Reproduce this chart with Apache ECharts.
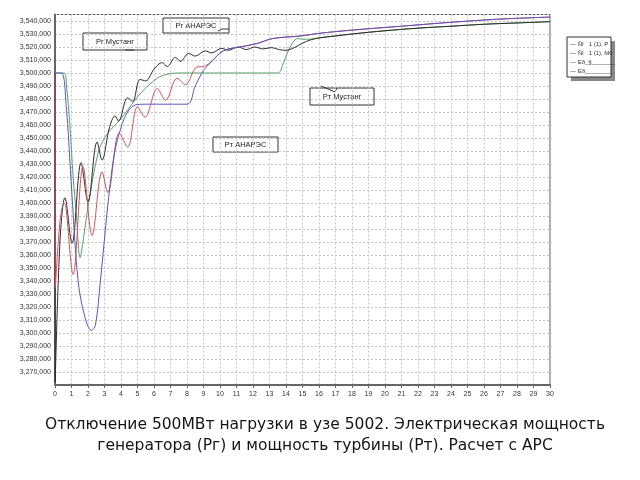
<!DOCTYPE html>
<html><head><meta charset="utf-8">
<script src="https://cdn.jsdelivr.net/npm/echarts@6/dist/echarts.min.js"></script>
<style>html,body{margin:0;padding:0;background:#fff}#c{width:640px;height:480px}</style>
</head><body><div id="c"></div>
<script>
// ---- data ----
const xTicks = [0,1,2,3,4,5,6,7,8,9,10,11,12,13,14,15,16,17,18,19,20,21,22,23,24,25,26,27,28,29,30];

// Pg Mustang (black)
const tBlack = [0,0.01,0.3,0.6,1.03,1.58,2.0,2.55,2.85,3.3,3.64,3.85,4.4,4.7,5.15,5.5,6.0,6.5,6.8,7.3,7.6,8.1,8.5,9.1,9.5,10.1,10.5,11.1,11.6,12.1,12.6,13.1,13.6,14.0,14.5,15.0,15.5,16,17,18,20,22,24,26,28,30];
const vBlack = [3500000,3262000,3370000,3404000,3369000,3431000,3401000,3447000,3433000,3458000,3467000,3463000,3481000,3478000,3495000,3494000,3503000,3508000,3505000,3512000,3509000,3515000,3513000,3517000,3515500,3519000,3517500,3520000,3518000,3520000,3518500,3519500,3518000,3517500,3519500,3523000,3525500,3527000,3528500,3530000,3532500,3534500,3536000,3537500,3538500,3539500];

// Pt Mustang (green)
const tGreen = [0,0.55,0.7,0.9,1.1,1.3,1.52,1.75,2.0,2.6,3.0,3.35,4.0,4.4,5.2,6.2,6.8,7.5,10,13.5,13.8,14.1,14.4,14.7,15.0,15.5,16,17,18,20,22,24,26,28,30];
const vGreen = [3500000,3500000,3490000,3460000,3420000,3390000,3358000,3375000,3397000,3438000,3450000,3456000,3465000,3471500,3484600,3496000,3499000,3500000,3500000,3500000,3506000,3516000,3523000,3526500,3526000,3526000,3527000,3528500,3530000,3532500,3534500,3536000,3537500,3538500,3539500];

// Pt ANARES (blue)
const tBlue = [0,0.4,0.7,0.9,1.05,1.4,1.8,2.2,2.45,2.75,3.05,3.25,3.6,4.0,4.4,4.9,5.5,8.0,8.5,9.0,9.4,10.2,11.2,12.2,13.2,14.9,16,18,21,24,27,30];
const vBlue = [3500000,3500000,3471000,3433000,3402000,3340000,3313000,3302000,3306000,3340000,3379000,3404000,3438000,3458000,3470000,3475500,3476000,3476000,3490000,3502000,3507500,3517000,3520000,3522500,3526500,3528500,3530500,3533000,3536000,3539000,3541500,3543000];

// Pg ANARES (red)
const tRed = [0,0.02,0.3,0.55,0.65,1.1,1.7,2.25,2.85,3.2,3.9,4.4,5.0,5.45,6.2,6.7,7.4,7.9,8.6,9.0,9.4,10.2,11.2,12.2,13.2,14.9,16,18,21,24,27,30];
const vRed = [3500000,3335000,3385000,3400000,3398000,3345000,3428000,3375000,3424000,3408000,3454000,3443000,3474000,3466000,3488000,3479000,3496000,3491000,3504600,3505000,3508000,3517000,3520000,3522500,3526500,3528500,3530500,3533000,3536000,3539000,3541500,3543000];

const legendNames = ['Ñî   1 (1), P','Ñî   1 (1), M0','Eð_§_______','Eð________'];
const titleLines = ['Отключение 500МВт нагрузки в узе 5002. Электрическая мощность','генератора (Рг) и мощность турбины (Рт). Расчет с АРС'];

function pairs(t,v){return t.map((x,i)=>[x,v[i]]);}
function fmt(v){return String(v).replace(/\B(?=(\d{3})+(?!\d))/g, ',');}

const chart = echarts.init(document.getElementById('c'), null, {renderer:'canvas'});

function box(x,y,w,h,txt){
  return {type:'group',children:[
    {type:'rect',shape:{x:x,y:y,width:w,height:h},style:{fill:'#fff',stroke:'#333',lineWidth:1}},
    {type:'text',style:{x:x+w/2,y:y+h/2,text:txt,textAlign:'center',textVerticalAlign:'middle',font:'7.5px "Liberation Sans", Arial',fill:'#222'}}
  ]};
}

const graphics = [
  box(83,33,64,17,'Рг Мустанг'),
  box(163,18,66,15,'Рг АНАРЭС'),
  box(310,88,64,17,'Рт Мустанг'),
  box(213,137,65,15,'Рт АНАРЭС'),
  {type:'polyline',shape:{points:[[218,31],[222,29],[229,29]]},style:{stroke:'#333',lineWidth:1,fill:null}},
  {type:'polyline',shape:{points:[[321,86],[335,92],[337,88]]},style:{stroke:'#333',lineWidth:1,fill:null}},
  {type:'line',shape:{x1:125,y1:50,x2:134,y2:50},style:{stroke:'#333',lineWidth:1}},
  // legend box with shadow
  {type:'rect',shape:{x:571,y:41,width:44,height:40},style:{fill:'#888'}},
  {type:'rect',shape:{x:567,y:37,width:44,height:40},style:{fill:'#fff',stroke:'#333',lineWidth:1}}
];
legendNames.forEach((n,i)=>{
  graphics.push({type:'text',style:{x:570,y:44+i*9,text:'— '+n,textVerticalAlign:'middle',font:'6px "Liberation Sans", Arial',fill:'#333'}});
});
titleLines.forEach((s,i)=>{
  graphics.push({type:'text',style:{x:325,y:425+i*21,text:s,textAlign:'center',textVerticalAlign:'middle',font:'15.5px "DejaVu Sans"',fill:'#151515'}});
});

const lineS = (name,data,color)=>({name:name,type:'line',data:data,showSymbol:false,smooth:0.35,
  lineStyle:{color:color,width:1},itemStyle:{color:color},silent:true,animation:false});

chart.setOption({
  animation:false,
  backgroundColor:'#fff',
  grid:{left:55,right:90,top:14.5,bottom:95,show:true,borderColor:'#555',borderWidth:1,backgroundColor:'#fff'},
  xAxis:{type:'value',min:0,max:30,interval:1,
    axisLine:{show:true,lineStyle:{color:'#666',width:2}},
    axisTick:{show:true,length:3,lineStyle:{color:'#666'}},
    axisLabel:{fontSize:7,color:'#333',margin:6,fontFamily:'Liberation Sans',formatter:v=>xTicks.includes(v)?String(v):''},
    splitLine:{show:true,lineStyle:{color:'#c4c4c4',type:[2,2],width:1}}},
  yAxis:{type:'value',min:3260000,max:3545000,interval:10000,
    axisLine:{show:true,lineStyle:{color:'#666',width:2}},
    axisTick:{show:false},
    axisLabel:{fontSize:7,color:'#333',margin:4,fontFamily:'Liberation Sans',showMinLabel:false,showMaxLabel:false,
      formatter:v=>(v%10000===0 && v>3260000)?fmt(v):''},
    splitLine:{show:true,lineStyle:{color:'#c4c4c4',type:[2,2],width:1}}},
  series:[
    lineS(legendNames[2],pairs(tGreen,vGreen),'#55a062'),
    lineS(legendNames[0],pairs(tBlack,vBlack),'#2b2b2b'),
    lineS(legendNames[1],pairs(tRed,vRed),'#d4505e'),
    lineS(legendNames[3],pairs(tBlue,vBlue),'#5a55c0')
  ],
  graphic:graphics
});
</script></body></html>
